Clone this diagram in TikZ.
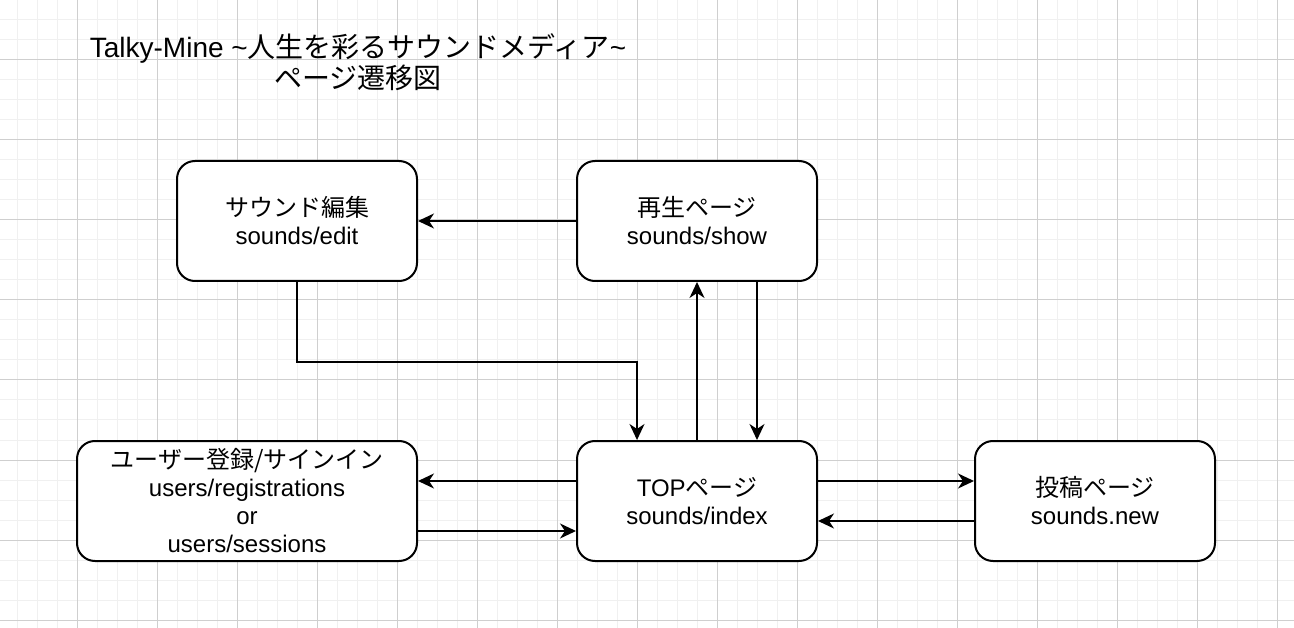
\documentclass[tikz,border=0pt]{standalone}
\usepackage{fontspec}
\setmainfont{Liberation Sans}
\newfontfamily\jpfont{Noto Sans CJK JP}
\newcommand{\jp}[1]{{\jpfont #1}}
\usetikzlibrary{arrows.meta}

\begin{document}
\begin{tikzpicture}[x=1pt,y=-1pt,
	minorline/.style={gray!12,line width=1pt},
	majorline/.style={gray!38,line width=1pt},
	page/.style={draw,fill=white,line width=2pt,rounded corners=18pt,minimum width=240pt,minimum height=120pt,inner sep=2pt,align=center,font=\fontsize{24}{28}\selectfont},
	arr/.style={line width=2pt,-{Stealth[length=16pt,width=15pt,inset=5pt]}}]
		\useasboundingbox[fill=white] (0,0) rectangle (1294,628);

		\foreach \x in {17,37,...,1293} \draw[minorline] (\x,0) -- (\x,628);
		\foreach \y in {0,20,...,620} \draw[minorline] (0,\y) -- (1294,\y);
		\foreach \x in {77,157,...,1277} \draw[majorline] (\x,0) -- (\x,628);
		\foreach \y in {60,140,...,620} \draw[majorline] (0,\y) -- (1294,\y);

		\node[align=center,font=\fontsize{28}{31}\selectfont] (title) at (358,62){Talky-Mine \textasciitilde\jp{人生を彩るサウンドメディア}\textasciitilde\\\jp{ページ遷移図}};

		\node[page] (edit) at (297,221){\jp{サウンド編集}\\sounds/edit};
		\node[page] (show) at (697,221){\jp{再生ページ}\\sounds/show};
		\node[page,minimum width=340pt] (users) at (247,501){\jp{ユーザー登録/サインイン}\\users/registrations\\or\\users/sessions};
		\node[page] (top) at (697,501){TOP\jp{ページ}\\sounds/index};
		\node[page] (post) at (1095,501){\jp{投稿ページ}\\sounds.new};

		\draw[arr] (show.west) -- (edit.east);
		\draw[arr] (edit.south) -- ++(0,80) -| ([xshift=-60pt]top.north);
		\draw[arr] (top.north) -- (show.south);
		\draw[arr] ([xshift=60pt]show.south) -- ([xshift=60pt]top.north);
		\draw[arr] ([yshift=20pt]top.west) -- ([yshift=20pt]users.east);
		\draw[arr] ([yshift=-30pt]users.east) -- ([yshift=-30pt]top.west);
		\draw[arr] ([yshift=20pt]top.east) -- ([yshift=20pt]post.west);
		\draw[arr] ([yshift=-20pt]post.west) -- ([yshift=-20pt]top.east);
	\end{tikzpicture}
\end{document}
